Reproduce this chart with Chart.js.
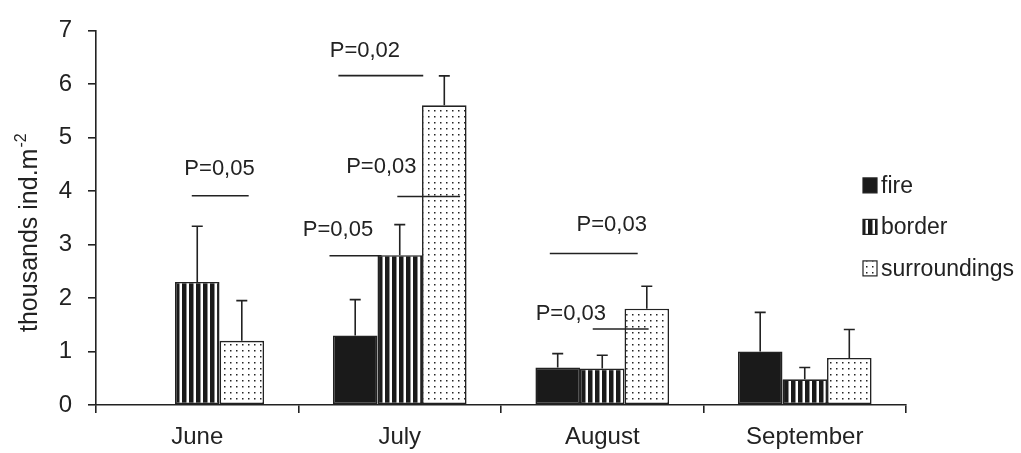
<!DOCTYPE html>
<html>
<head>
<meta charset="utf-8">
<script src="https://cdn.jsdelivr.net/npm/chart.js@4.4.1/dist/chart.umd.min.js"></script>
<style>
  html, body { margin: 0; padding: 0; background: #fff; }
  canvas { display: block; }
</style>
</head>
<body>
<canvas id="myChart" width="1021" height="453"></canvas>
<script>
// data
var months = ['June', 'July', 'August', 'September'];
var fire = [null, 1.3, 0.7, 1.0];
var border = [2.3, 2.8, 0.68, 0.48];
var surroundings = [1.2, 5.6, 1.8, 0.88];
var fireErr = [0, 0.67, 0.26, 0.73];
var borderErr = [1.04, 0.57, 0.25, 0.22];
var surroundingsErr = [0.75, 0.55, 0.42, 0.53];
var yTicks = [0, 1, 2, 3, 4, 5, 6, 7];

// significance marks: category, line span (fraction of category from centre), line value, text pos
var pMarks = [
    { text: 'P=0,05', cat: 0, x1: -0.027, x2: 0.254, y: 3.91, tx: 0.11, ty: 4.41 },
    { text: 'P=0,02', cat: 1, x1: -0.303, x2: 0.116, y: 6.155, tx: -0.172, ty: 6.61 },
    { text: 'P=0,03', cat: 1, x1: -0.012, x2: 0.298, y: 3.895, tx: -0.091, ty: 4.446 },
    { text: 'P=0,05', cat: 1, x1: -0.347, x2: -0.09, y: 2.79, tx: -0.305, ty: 3.27 },
    { text: 'P=0,03', cat: 2, x1: -0.259, x2: 0.175, y: 2.83, tx: 0.047, ty: 3.36 },
    { text: 'P=0,03', cat: 2, x1: -0.047, x2: 0.229, y: 1.42, tx: -0.155, ty: 1.71 }
];

var INK = '#222';
var FONT = "'Liberation Sans', Arial, sans-serif";

var canvas = document.getElementById('myChart');
var ctx = canvas.getContext('2d');

function stripes() {
    var c = document.createElement('canvas');
    c.width = 7; c.height = 7;
    var g = c.getContext('2d');
    g.fillStyle = '#fff';
    g.fillRect(0, 0, 7, 7);
    g.fillStyle = '#1a1a1a';
    g.fillRect(0, 0, 4.5, 7);
    return ctx.createPattern(c, 'repeat');
}
function dots() {
    var c = document.createElement('canvas');
    c.width = 6; c.height = 6;
    var g = c.getContext('2d');
    g.fillStyle = '#fff';
    g.fillRect(0, 0, 6, 6);
    g.fillStyle = '#222';
    g.fillRect(2, 2, 1.5, 1.5);
    return ctx.createPattern(c, 'repeat');
}

var errs = [fireErr, borderErr, surroundingsErr];

var errorBars = {
    id: 'errorBars',
    afterDatasetsDraw: function (chart) {
        var c = chart.ctx, y = chart.scales.y;
        c.save();
        c.strokeStyle = INK;
        c.lineWidth = 1.6;
        chart.data.datasets.forEach(function (ds, i) {
            var meta = chart.getDatasetMeta(i);
            meta.data.forEach(function (bar, j) {
                var v = ds.data[j], e = errs[i][j];
                if (v == null || !e) return;
                var top = y.getPixelForValue(v + e);
                c.beginPath();
                c.moveTo(bar.x, bar.y);
                c.lineTo(bar.x, top);
                c.moveTo(bar.x - 5.5, top);
                c.lineTo(bar.x + 5.5, top);
                c.stroke();
            });
        });
        c.restore();
    }
};

var extras = {
    id: 'extras',
    afterDraw: function (chart) {
        var c = chart.ctx, xs = chart.scales.x, ys = chart.scales.y;
        var w = xs.getPixelForValue(1) - xs.getPixelForValue(0);
        c.save();
        // P values
        c.strokeStyle = INK;
        c.fillStyle = INK;
        c.lineWidth = 1.6;
        c.font = '22px ' + FONT;
        c.textAlign = 'center';
        c.textBaseline = 'middle';
        pMarks.forEach(function (m) {
            var cx = xs.getPixelForValue(m.cat);
            var ly = ys.getPixelForValue(m.y);
            c.beginPath();
            c.moveTo(cx + m.x1 * w, ly);
            c.lineTo(cx + m.x2 * w, ly);
            c.stroke();
            c.fillText(m.text, cx + m.tx * w, ys.getPixelForValue(m.ty));
        });

        // legend
        var a = chart.chartArea;
        c.font = '23px ' + FONT;
        c.textAlign = 'left';
        chart.data.datasets.forEach(function (ds, i) {
            var cy = a.top + 155 + i * 41.5;
            c.fillStyle = ds.backgroundColor;
            c.fillRect(a.right - 43, cy - 7.5, 14, 15);
            c.strokeStyle = INK;
            c.lineWidth = 1.2;
            c.strokeRect(a.right - 43, cy - 7.5, 14, 15);
            c.fillStyle = INK;
            c.fillText(ds.label, a.right - 25, cy + 1);
        });

        // y title with superscript
        c.translate(37, 332);
        c.rotate(-Math.PI / 2);
        c.textBaseline = 'alphabetic';
        c.font = '25px ' + FONT;
        var main = 'thousands ind.m';
        c.fillText(main, 0, 0);
        var mw = c.measureText(main).width;
        c.font = '16px ' + FONT;
        c.fillText('-2', mw + 1, -11);
        c.restore();
    }
};

new Chart(canvas, {
    type: 'bar',
    data: {
        labels: months,
        datasets: [
            { label: 'fire', data: fire, backgroundColor: '#1a1a1a' },
            { label: 'border', data: border, backgroundColor: stripes() },
            { label: 'surroundings', data: surroundings, backgroundColor: dots() }
        ]
    },
    options: {
        responsive: false,
        animation: false,
        events: [],
        datasets: {
            bar: {
                categoryPercentage: 0.66,
                barPercentage: 1,
                borderColor: INK,
                borderWidth: 1.6,
                borderSkipped: false
            }
        },
        layout: { padding: { left: 0, right: 115, top: 24, bottom: 0 } },
        plugins: {
            legend: { display: false },
            tooltip: { enabled: false }
        },
        scales: {
            x: {
                grid: { offset: true, drawOnChartArea: false, tickLength: 8, color: INK, lineWidth: 1.6 },
                border: { color: INK, width: 1.6 },
                ticks: { color: INK, font: { family: FONT, size: 24 }, padding: 10 },
                afterFit: function (s) { s.height = 48; }
            },
            y: {
                min: 0,
                max: 7,
                afterBuildTicks: function (s) {
                    s.ticks = yTicks.map(function (v) { return { value: v }; });
                },
                grid: { drawOnChartArea: false, tickLength: 8, color: INK, lineWidth: 1.6 },
                border: { color: INK, width: 1.6 },
                ticks: { color: INK, font: { family: FONT, size: 24 }, padding: 16 },
                afterFit: function (s) { s.width = 96; }
            }
        }
    },
    plugins: [errorBars, extras]
});
</script>
</body>
</html>
